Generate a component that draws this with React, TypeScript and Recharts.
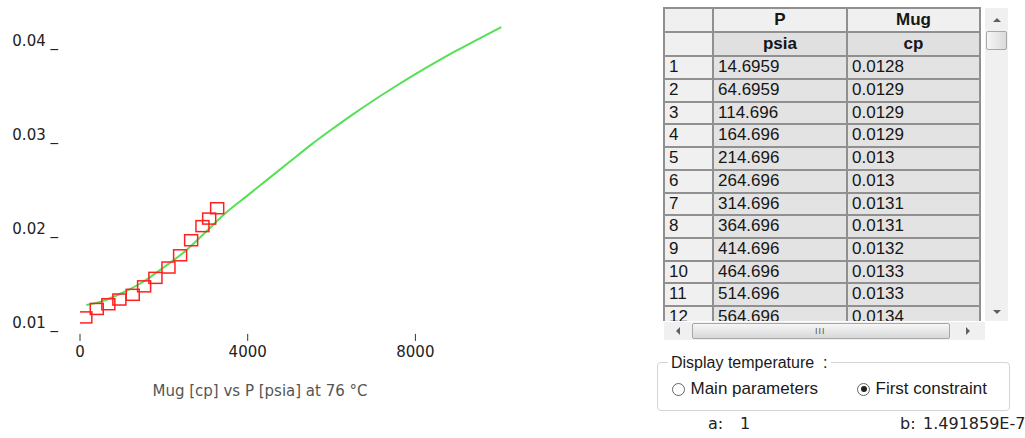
import React from 'react';
import { ComposedChart, Line, Scatter, XAxis, YAxis } from 'recharts';

// fitted correlation curve (P psia -> Mug cp)
const curveP = [150, 500, 1000, 1500, 2000, 2500, 3000, 3500, 4000, 4500, 5000, 5500, 6000, 6500, 7000, 7500, 8000, 8500, 9000, 9500, 10050];
const curveMug = [0.01191, 0.01228, 0.01319, 0.01436, 0.01593, 0.0176, 0.01967, 0.0218, 0.02357, 0.02535, 0.02713, 0.02891, 0.03056, 0.03215, 0.03365, 0.03508, 0.03645, 0.03775, 0.03899, 0.04018, 0.04145];

// measured points
const measP = [127, 400, 676, 939, 1258, 1529, 1799, 2110, 2388, 2651, 2921, 3081, 3272];
const measMug = [0.0106, 0.0115, 0.012, 0.0125, 0.013, 0.0139, 0.0148, 0.0159, 0.0172, 0.0188, 0.0203, 0.0211, 0.0222];

const xTicks = [0, 4000, 8000];
const yTicks = [0.01, 0.02, 0.03, 0.04];

// table rows
const rowNums = ['1', '2', '3', '4', '5', '6', '7', '8', '9', '10', '11', '12'];
const tableP = ['14.6959', '64.6959', '114.696', '164.696', '214.696', '264.696', '314.696', '364.696', '414.696', '464.696', '514.696', '564.696'];
const tableMug = ['0.0128', '0.0129', '0.0129', '0.0129', '0.013', '0.013', '0.0131', '0.0131', '0.0132', '0.0133', '0.0133', '0.0134'];

const curve = curveP.map((p, i) => ({ p, v: curveMug[i] }));
const meas = measP.map((p, i) => ({ p, v: measMug[i] }));

const chartFont = 'DejaVu Sans, sans-serif';
const uiFont = 'Liberation Sans, Arial, sans-serif';

const XTick = ({ x, y, payload }: any) => (
  <g>
    <line x1={x} x2={x} y1={y + 0.5} y2={y + 7.5} stroke="#333" strokeWidth={1} />
    <text x={x} y={y + 24} textAnchor="middle" fontFamily={chartFont} fontSize={15} fill="#222">
      {payload.value}
    </text>
  </g>
);

const YTick = ({ x, y, payload }: any) => (
  <text x={x - 22} y={y} dy="0.36em" textAnchor="end" fontFamily={chartFont} fontSize={15} fill="#222">
    {payload.value.toFixed(2) + ' _'}
  </text>
);

const SquareMark = ({ cx, cy }: any) => (
  <rect x={cx - 6.5} y={cy - 5.5} width={13} height={11} fill="none" stroke="#ff1f1f" strokeWidth={1.5} />
);

const line = '2px solid #909090';

function Cell({ w, bg, bold, center, children, h }: any) {
  return (
    <div
      style={{
        width: w,
        height: h,
        boxSizing: 'border-box',
        borderRight: line,
        borderBottom: line,
        background: bg,
        fontWeight: bold ? 'bold' : 'normal',
        textAlign: center ? 'center' : 'left',
        paddingLeft: center ? 0 : 4,
        lineHeight: h - 2 + 'px',
        whiteSpace: 'nowrap',
        overflow: 'hidden',
      }}
    >
      {children}
    </div>
  );
}

function Grid() {
  const cols = [49, 134, 133];
  return (
    <div
      style={{
        position: 'absolute',
        left: 663,
        top: 7,
        width: 318,
        height: 314,
        overflow: 'hidden',
        borderTop: line,
        borderLeft: line,
        boxSizing: 'border-box',
        fontFamily: uiFont,
        fontSize: 17,
        color: '#161616',
      }}
    >
      <div style={{ display: 'flex' }}>
        <Cell w={cols[0]} h={24} bg="#f0f0f0" />
        <Cell w={cols[1]} h={24} bg="#f0f0f0" bold center>P</Cell>
        <Cell w={cols[2]} h={24} bg="#f0f0f0" bold center>Mug</Cell>
      </div>
      <div style={{ display: 'flex' }}>
        <Cell w={cols[0]} h={24.4} bg="#f0f0f0" />
        <Cell w={cols[1]} h={24.4} bg="#e0e0e0" bold center>psia</Cell>
        <Cell w={cols[2]} h={24.4} bg="#e0e0e0" bold center>cp</Cell>
      </div>
      {rowNums.map((n, i) => (
        <div key={n} style={{ display: 'flex' }}>
          <Cell w={cols[0]} h={22.7} bg="#f0f0f0">{n}</Cell>
          <Cell w={cols[1]} h={22.7} bg="#e3e3e3">{tableP[i]}</Cell>
          <Cell w={cols[2]} h={22.7} bg="#e3e3e3">{tableMug[i]}</Cell>
        </div>
      ))}
    </div>
  );
}

const tri = (dir: string, cx: number, cy: number) => {
  const s: any = { position: 'absolute', width: 0, height: 0 };
  if (dir === 'up') Object.assign(s, { left: cx - 4, top: cy - 2, borderLeft: '4px solid transparent', borderRight: '4px solid transparent', borderBottom: '4px solid #606060' });
  if (dir === 'down') Object.assign(s, { left: cx - 4, top: cy - 2, borderLeft: '4px solid transparent', borderRight: '4px solid transparent', borderTop: '4px solid #606060' });
  if (dir === 'left') Object.assign(s, { left: cx - 2, top: cy - 4, borderTop: '4px solid transparent', borderBottom: '4px solid transparent', borderRight: '4px solid #606060' });
  if (dir === 'right') Object.assign(s, { left: cx - 2, top: cy - 4, borderTop: '4px solid transparent', borderBottom: '4px solid transparent', borderLeft: '4px solid #606060' });
  return <div style={s} />;
};

const thumb = {
  position: 'absolute' as const,
  boxSizing: 'border-box' as const,
  border: '1px solid #a8a8a8',
  borderRadius: 2,
};

function Scrollbars() {
  return (
    <>
      <div style={{ position: 'absolute', left: 985, top: 8, width: 23, height: 313, background: '#f0f0f0' }} />
      {tri('up', 997, 20)}
      <div style={{ ...thumb, left: 986, top: 31, width: 21, height: 19, background: 'linear-gradient(to right, #f6f6f6, #dadada)' }} />
      {tri('down', 997, 312)}
      <div style={{ position: 'absolute', left: 664, top: 322, width: 321, height: 18, background: '#f0f0f0' }} />
      {tri('left', 678, 331)}
      <div style={{ ...thumb, left: 692, top: 323, width: 258, height: 16, background: 'linear-gradient(to bottom, #f6f6f6, #d8d8d8)' }} />
      <div style={{ position: 'absolute', left: 815, top: 327, fontFamily: uiFont, fontSize: 9, lineHeight: '8px', color: '#555', letterSpacing: 1 }}>III</div>
      {tri('right', 968, 331)}
    </>
  );
}

function Radio({ cx, cy, checked, label }: any) {
  return (
    <>
      <div
        style={{
          position: 'absolute',
          left: cx - 6.5,
          top: cy - 6.5,
          width: 13,
          height: 13,
          boxSizing: 'border-box',
          border: '1px solid #666',
          borderRadius: '50%',
          background: '#fff',
        }}
      />
      {checked && (
        <div style={{ position: 'absolute', left: cx - 3, top: cy - 3, width: 6, height: 6, borderRadius: '50%', background: '#222' }} />
      )}
      <div style={{ position: 'absolute', left: cx + 12, top: cy - 10, lineHeight: '20px', fontFamily: uiFont, fontSize: 17, color: '#1a1a1a', whiteSpace: 'nowrap' }}>
        {label}
      </div>
    </>
  );
}

const smallText = (left: number, text: string) => (
  <div style={{ position: 'absolute', left, top: 415, lineHeight: '18px', fontFamily: chartFont, fontSize: 16, color: '#222', whiteSpace: 'pre' }}>
    {text}
  </div>
);

function Panel() {
  return (
    <>
      <Grid />
      <Scrollbars />
      <div
        style={{
          position: 'absolute',
          left: 657,
          top: 362,
          width: 353,
          height: 49,
          boxSizing: 'border-box',
          border: '1px solid #d4d4d4',
          borderRadius: 4,
        }}
      />
      <div style={{ position: 'absolute', left: 668, top: 354, lineHeight: '18px', padding: '0 3px', background: '#fff', fontFamily: uiFont, fontSize: 16, color: '#1a1a1a', whiteSpace: 'pre' }}>
        {'Display temperature  :'}
      </div>
      <Radio cx={678.5} cy={389} label="Main parameters" />
      <Radio cx={863.5} cy={389} checked label="First constraint" />
      {smallText(708, 'a:')}
      {smallText(740, '1')}
      {smallText(900, 'b:')}
      {smallText(923, '1.491859E-7')}
    </>
  );
}

export default function App() {
  return (
    <div style={{ position: 'absolute', left: 0, top: 0, width: 1025, height: 438, background: '#fff', overflow: 'hidden' }}>
      <div style={{ position: 'absolute', left: 0, top: 0 }}>
        <ComposedChart width={530} height={438} margin={{ top: 17.2, right: 14, bottom: 74.6, left: 0 }}>
          <XAxis
            type="number"
            dataKey="p"
            domain={[0, 10400]}
            allowDataOverflow
            ticks={xTicks}
            interval={0}
            axisLine={false}
            tickLine={false}
            tickSize={0}
            tickMargin={0}
            height={30}
            tick={<XTick />}
          />
          <YAxis
            type="number"
            dataKey="v"
            domain={[0.0089, 0.0425]}
            allowDataOverflow
            ticks={yTicks}
            interval={0}
            axisLine={false}
            tickLine={false}
            tickSize={0}
            tickMargin={0}
            width={80}
            tick={<YTick />}
          />
          <Line
            data={curve}
            dataKey="v"
            type="monotone"
            stroke="#55e055"
            strokeWidth={2}
            dot={false}
            activeDot={false}
            isAnimationActive={false}
          />
          <Scatter data={meas} dataKey="v" shape={<SquareMark />} isAnimationActive={false} />
        </ComposedChart>
      </div>
      <div
        style={{
          position: 'absolute',
          left: 0,
          top: 382,
          width: 520,
          textAlign: 'center',
          lineHeight: '18px',
          fontFamily: chartFont,
          fontSize: 15,
          color: '#555',
        }}
      >
        Mug [cp] vs P [psia] at 76 °C
      </div>
      <Panel />
    </div>
  );
}
